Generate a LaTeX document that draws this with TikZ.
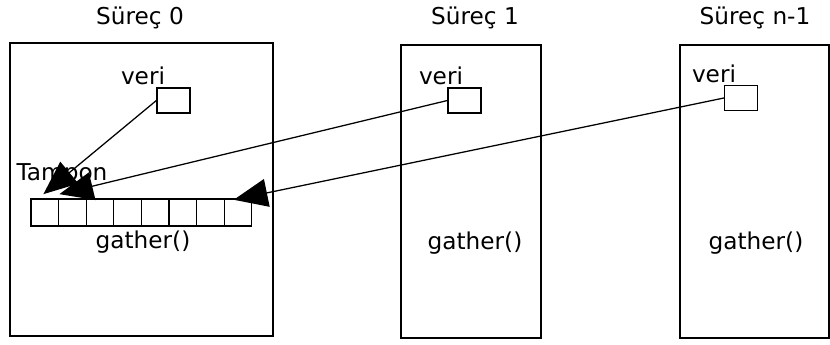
\documentclass[tikz,border=0pt]{standalone}
\usepackage{fontspec}
\setmainfont{DejaVu Sans}
\usetikzlibrary{arrows.meta}

\begin{document}
\begin{tikzpicture}[x=0.025cm, y=-0.025cm, font=\fontsize{16.5}{19}\selectfont, line width=0.9pt]
                \useasboundingbox (0,0) rectangle (830,344);
                \begin{scope}[
                        every node/.style={draw, inner sep=0pt},
                        proc/.style={minimum height=7.325cm},
                        veribox/.style={minimum width=0.825cm, minimum height=0.625cm},
                        cell/.style={minimum width=0.69cm, minimum height=0.675cm}
                    ]

                    \node[proc, minimum width=6.575cm] (p0) at (141.5,189.5) {};
                    \node[proc, minimum width=3.5cm] (p1) at (471,191.5) {};
                    \node[proc, minimum width=3.725cm] (pn) at (754.5,191.5) {};

                    \node[veribox] (v0) at (173.5,100.5) {};
                    \node[veribox] (v1) at (464.5,100.5) {};
                    \node[veribox] (vn) at (741,98) {};

                    \foreach \i in {1,...,8}
                        \node[cell] (c\i) at ({44.8+27.6*(\i-1)},212.5) {};
                \end{scope}

                \node (t0) at (140,18) {Süreç 0};
                \node (t1) at (475,18) {Süreç 1};
                \node (tn) at (755,18) {Süreç n-1};

                \node (l0) at (143,76) {veri};
                \node (l1) at (441,76) {veri};
                \node (ln) at (714,74) {veri};

                \node (tampon) at (62,174) {Tampon};

                \node (g0) at (143,242) {gather()};
                \node (g1) at (475,243) {gather()};
                \node (gn) at (756,243) {gather()};

                \draw[-{Triangle[length=24pt, width=20pt]}] (v0.west) -- ([xshift=-1pt, yshift=3pt]c1.north);
                \draw[-{Triangle[length=24pt, width=20pt]}] (v1.west) -- ([xshift=1pt, yshift=3pt]c2.north west);
                \draw[-{Triangle[length=24pt, width=20pt]}] (vn.west) -- ([xshift=-3pt, yshift=-1pt]c8.north);
            \end{tikzpicture}
\end{document}
